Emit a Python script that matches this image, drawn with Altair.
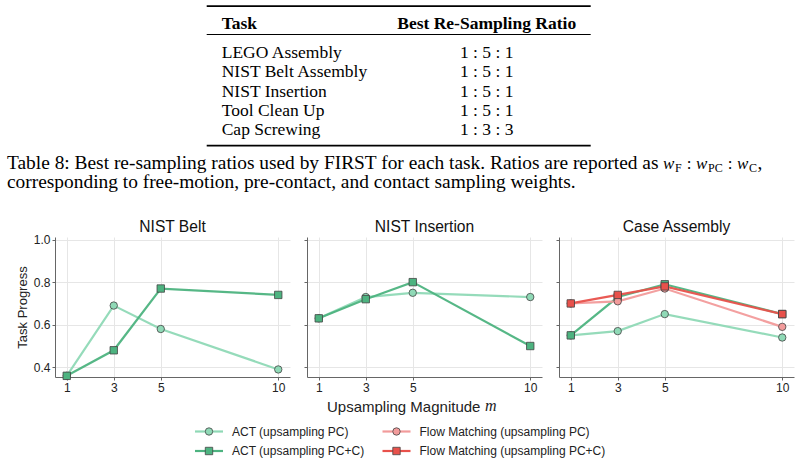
import altair as alt
import pandas as pd

# ---------------- data ----------------
m_values = [1, 3, 5, 10]
series_names = [
    "ACT (upsampling PC)",
    "ACT (upsampling PC+C)",
    "Flow Matching (upsampling PC)",
    "Flow Matching (upsampling PC+C)",
]
series_colors = ["#8fd9b6", "#4db380", "#f29b9b", "#e8514b"]
series_shapes = ["circle", "square", "circle", "square"]
panel_titles = ["NIST Belt", "NIST Insertion", "Case Assembly"]

belt_act_pc = [0.36, 0.69, 0.58, 0.39]
belt_act_pcc = [0.36, 0.48, 0.77, 0.74]
ins_act_pc = [0.63, 0.73, 0.75, 0.73]
ins_act_pcc = [0.63, 0.72, 0.80, 0.50]
case_act_pc = [0.55, 0.57, 0.65, 0.54]
case_act_pcc = [0.55, 0.73, 0.79, 0.65]
case_fm_pc = [0.70, 0.71, 0.77, 0.59]
case_fm_pcc = [0.70, 0.74, 0.78, 0.65]

table_header = ["Task", "Best Re-Sampling Ratio"]
table_tasks = ["LEGO Assembly", "NIST Belt Assembly", "NIST Insertion", "Tool Clean Up", "Cap Screwing"]
table_ratios = ["1 : 5 : 1", "1 : 5 : 1", "1 : 5 : 1", "1 : 5 : 1", "1 : 3 : 3"]
caption_line1 = "Table 8: Best re-sampling ratios used by FIRST for each task. Ratios are reported as"
caption_line2 = "corresponding to free-motion, pre-contact, and contact sampling weights."
x_title = "Upsampling Magnitude"
y_title = "Task Progress"

panel_series = {
    "NIST Belt": [(series_names[0], belt_act_pc), (series_names[1], belt_act_pcc)],
    "NIST Insertion": [(series_names[0], ins_act_pc), (series_names[1], ins_act_pcc)],
    "Case Assembly": [
        (series_names[0], case_act_pc),
        (series_names[1], case_act_pcc),
        (series_names[2], case_fm_pc),
        (series_names[3], case_fm_pcc),
    ],
}

rows = []
for p in panel_titles:
    for s, vals in panel_series[p]:
        for m, v in zip(m_values, vals):
            rows.append({"panel": p, "series": s, "m": m, "value": v, "order": series_names.index(s)})
df = pd.DataFrame(rows)

SANS = "Liberation Sans"
SERIF = "Liberation Serif"
dummy = pd.DataFrame({"a": [0]})
OX = 55  # plot origin of the first panel; all concat children share it

# ---------------- top: table + caption ----------------
TW = 804 - OX
TH = 219
tbl = pd.DataFrame({"task": table_tasks, "ratio": table_ratios, "row": list(range(len(table_tasks)))})
row_y = alt.Y("row:O", scale=alt.Scale(type="point", domain=list(range(5)), range=[58.3, 135], padding=0), axis=None)

def rule(y, w):
    return alt.Chart(dummy).mark_rule(color="black", strokeWidth=w).encode(
        x=alt.value(206.7 - OX), x2=alt.value(590.7 - OX), y=alt.value(y))

def txt(text, x, y, size, font=SERIF, weight="normal", style="normal", align="left"):
    return alt.Chart(dummy).mark_text(
        text=text, font=font, fontSize=size, fontWeight=weight, fontStyle=style,
        align=align, baseline="alphabetic", color="black").encode(x=alt.value(x - OX), y=alt.value(y))

CAP = 19.4
top_layers = [
    rule(6.2, 1.8), rule(34.5, 1.1), rule(145.7, 1.8),
    txt(table_header[0], 221.7, 29, 17.5, weight="bold"),
    txt(table_header[1], 486.7, 29, 17.5, weight="bold", align="center"),
    alt.Chart(tbl).mark_text(font=SERIF, fontSize=17.5, align="left", baseline="alphabetic", color="black")
        .encode(x=alt.value(221.7 - OX), y=row_y, text="task:N"),
    alt.Chart(tbl).mark_text(font=SERIF, fontSize=17.5, align="center", baseline="alphabetic", color="black")
        .encode(x=alt.value(486.7 - OX), y=row_y, text="ratio:N"),
    txt(caption_line1, 7, 168.5, CAP),
    txt(caption_line2, 7, 187.5, CAP),
    # math: w_F : w_PC : w_C,
    txt("w", 663, 168.5, 17, style="italic"),
    txt("F", 675, 171.5, 12),
    txt(":", 689, 168.5, 17, align="center"),
    txt("w", 696, 168.5, 17, style="italic"),
    txt("PC", 708, 171.5, 12),
    txt(":", 730, 168.5, 17, align="center"),
    txt("w", 737, 168.5, 17, style="italic"),
    txt("C", 749, 171.5, 12),
    txt(",", 757.5, 168.5, CAP),
]
top = alt.layer(*top_layers).properties(width=TW, height=TH)

# ---------------- panels ----------------
PW, PH = 235, 140
color_scale = alt.Scale(domain=series_names, range=series_colors)
shape_scale = alt.Scale(domain=series_names, range=series_shapes)

def panel(i, title):
    d = df[df.panel == title]
    x = alt.X("m:Q", scale=alt.Scale(domain=[0.5, 10.5], nice=False, zero=False),
              axis=alt.Axis(values=m_values, format="d", title=None, tickSize=3, labelPadding=2,
                            labelFontSize=12, labelFont=SANS, labelColor="#222",
                            domainColor="#666", tickColor="#666", gridColor="#e6e6e6"))
    y = alt.Y("value:Q", scale=alt.Scale(domain=[0.3545, 1.012], nice=False, zero=False),
              axis=alt.Axis(values=[0.4, 0.6, 0.8, 1.0], format=".1f", labels=(i == 0),
                            title=y_title if i == 0 else None, titleFontSize=13, titleFont=SANS,
                            titleFontWeight="normal", titleColor="#222", titlePadding=4,
                            tickSize=3, labelPadding=2, labelFontSize=12, labelFont=SANS,
                            labelColor="#222", domainColor="#666", tickColor="#666",
                            gridColor="#e6e6e6"))
    base = alt.Chart(d)
    lines = base.mark_line(strokeWidth=2.2, opacity=0.95).encode(
        x=x, y=y,
        color=alt.Color("series:N", scale=color_scale, legend=None),
        detail="series:N", order="m:Q")
    pts = base.mark_point(filled=True, size=55, strokeWidth=0.8, opacity=1).encode(
        x=x, y=y,
        fill=alt.Fill("series:N", scale=color_scale, legend=None),
        shape=alt.Shape("series:N", scale=shape_scale, legend=None),
        stroke=alt.value("#444"),
        order="order:Q")
    ttl = alt.Chart(dummy).mark_text(text=title, font=SANS, fontSize=15.6, align="center",
                                     baseline="alphabetic", color="#111").encode(
        x=alt.value(PW / 2), y=alt.value(-5.5))
    layers = [lines, pts, ttl]
    if i == 0:
        layers.append(alt.Chart(dummy).mark_rule(strokeOpacity=0, color="white").encode(
            x=alt.value(-OX), y=alt.value(60), y2=alt.value(70)))
    return alt.layer(*layers).properties(width=PW, height=PH)

panels = alt.hconcat(*[panel(i, t) for i, t in enumerate(panel_titles)], spacing=13)

# ---------------- legend + x title ----------------
leg = pd.DataFrame({
    "series": series_names,
    "col": [0, 0, 1, 1],
    "row": [0, 1, 0, 1],
})
lx = alt.X("col:O", scale=alt.Scale(type="point", domain=[0, 1], range=[209 - OX, 396.5 - OX], padding=0), axis=None)
ly = alt.Y("row:O", scale=alt.Scale(type="point", domain=[0, 1], range=[38.5, 58], padding=0), axis=None)
leg_lines = alt.Chart(leg).mark_rule(strokeWidth=2.2, xOffset=-14, x2Offset=14).encode(
    x=lx, x2=alt.X2("col"), y=ly,
    color=alt.Color("series:N", scale=color_scale, legend=None))
leg_pts = alt.Chart(leg).mark_point(filled=True, size=55, strokeWidth=0.8, opacity=1).encode(
    x=lx, y=ly,
    fill=alt.Fill("series:N", scale=color_scale, legend=None),
    shape=alt.Shape("series:N", scale=shape_scale, legend=None),
    stroke=alt.value("#444"))
leg_txt = alt.Chart(leg).mark_text(align="left", baseline="middle", dx=23, font=SANS, fontSize=12,
                                   color="#222").encode(x=lx, y=ly, text="series:N")
xt1 = alt.Chart(dummy).mark_text(text=x_title, font=SANS, fontSize=15, align="left", baseline="middle",
                                 color="#222").encode(x=alt.value(327 - OX), y=alt.value(13.5))
xt2 = alt.Chart(dummy).mark_text(text="m", font=SERIF, fontSize=16, fontStyle="italic", align="left",
                                 baseline="middle", color="#222").encode(x=alt.value(485 - OX), y=alt.value(13))
bottom = alt.layer(leg_lines, leg_pts, leg_txt, xt1, xt2).properties(width=TW, height=68)

chart = alt.vconcat(top, panels, bottom, spacing=0).properties(
    padding=0, background="white"
).configure_view(stroke=None).configure_axis(grid=True)

chart.save("out.html", embed_options={"renderer": "svg", "actions": False})
